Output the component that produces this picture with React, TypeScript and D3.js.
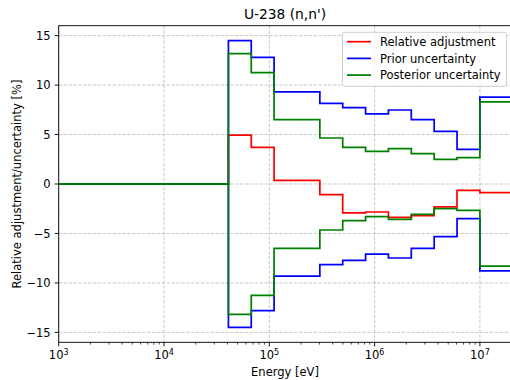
import React from "react";
import * as d3 from "d3";

const edges = [1e3, 4.09e4, 6.74e4, 1.11e5, 3.02e5, 4.98e5, 8.21e5, 1.353e6, 2.231e6, 3.679e6, 6.065e6, 1e7, 2e7];
const adjustment = [0, 4.95, 3.7, 0.36, -1.08, -2.93, -2.83, -3.37, -3.2, -2.32, -0.65, -0.88];
const prior = [0, 14.5, 12.8, 9.3, 8.15, 7.72, 7.08, 7.48, 6.5, 5.33, 3.5, 8.77];
const posterior = [0, 13.18, 11.26, 6.5, 4.65, 3.7, 3.3, 3.57, 3.06, 2.49, 2.66, 8.31];
const xTicks = [1e3, 1e4, 1e5, 1e6, 1e7];
const yTicks = [-15, -10, -5, 0, 5, 10, 15];
const legendLabels = ["Relative adjustment", "Prior uncertainty", "Posterior uncertainty"];
const colors = ["#ff0000", "#0000ff", "#008000"];

const W = 510, H = 380;
const L = 58.7, R = 511.6, T = 25.7, B = 342.3;
const FONT = "DejaVu Sans, sans-serif";
const FS = 11.5;

export default function App() {
  const x = d3.scaleLog().domain([1e3, 2e7]).range([L, R]);
  const y = d3.scaleLinear().domain([-16, 16]).range([B, T]);

  const stepPath = (vals: number[], sign = 1) => {
    const pts: [number, number][] = vals.map((v, i) => [edges[i], sign * v]);
    pts.push([edges[edges.length - 1], sign * vals[vals.length - 1]]);
    return d3.line<[number, number]>().x(d => x(d[0])).y(d => y(d[1])).curve(d3.curveStepAfter)(pts) || "";
  };

  const minor: number[] = [];
  for (let k = 3; k <= 7; k++) for (let m = 2; m <= 9; m++) {
    const v = m * Math.pow(10, k);
    if (v <= 2e7) minor.push(v);
  }

  const lines = [
    { d: stepPath(adjustment), c: colors[0] },
    { d: stepPath(prior, 1), c: colors[1] },
    { d: stepPath(prior, -1), c: colors[1] },
    { d: stepPath(posterior, 1), c: colors[2] },
    { d: stepPath(posterior, -1), c: colors[2] },
  ];

  const lgX = 342.5, lgY = 32.3, lgW = 164, lgH = 54;
  const rowY = [41.7, 58.4, 75.1];

  return (
    <svg width={W} height={H} style={{ position: "absolute", left: 0, top: 0, background: "#fff" }} fontFamily={FONT}>
      <defs>
        <clipPath id="plot">
          <rect x={L} y={T} width={R - L} height={B - T} />
        </clipPath>
      </defs>
      <rect x={0} y={0} width={W} height={H} fill="#fff" />
      {/* grid */}
      {xTicks.map(t => (
        <line key={"gx" + t} x1={x(t)} x2={x(t)} y1={T} y2={B} stroke="#b0b0b0" strokeWidth={0.92} strokeDasharray="3.4,1.5" opacity={0.75} />
      ))}
      {yTicks.map(t => (
        <line key={"gy" + t} x1={L} x2={R} y1={y(t)} y2={y(t)} stroke="#b0b0b0" strokeWidth={0.92} strokeDasharray="3.4,1.5" opacity={0.75} />
      ))}
      {/* data */}
      <g clipPath="url(#plot)">
        {lines.map((l, i) => (
          <path key={i} d={l.d} fill="none" stroke={l.c} strokeWidth={1.73} strokeLinejoin="miter" strokeLinecap="square" />
        ))}
      </g>
      {/* spines */}
      <rect x={L} y={T} width={R - L} height={B - T} fill="none" stroke="#000" strokeWidth={0.92} />
      {/* x ticks */}
      {xTicks.map(t => (
        <g key={"xt" + t}>
          <line x1={x(t)} x2={x(t)} y1={B} y2={B + 4} stroke="#000" strokeWidth={0.92} />
          <text x={x(t)} y={B + 17} fontSize={FS} textAnchor="middle" fill="#000">
            10<tspan dy={-4.5} fontSize={8}>{Math.log10(t)}</tspan>
          </text>
        </g>
      ))}
      {minor.map(t => (
        <line key={"mt" + t} x1={x(t)} x2={x(t)} y1={B} y2={B + 2.3} stroke="#000" strokeWidth={0.7} />
      ))}
      {/* y ticks */}
      {yTicks.map(t => (
        <g key={"yt" + t}>
          <line x1={L - 4} x2={L} y1={y(t)} y2={y(t)} stroke="#000" strokeWidth={0.92} />
          <text x={L - 8} y={y(t) + 4.2} fontSize={FS} textAnchor="end" fill="#000">
            {t < 0 ? "\u2212" + Math.abs(t) : String(t)}
          </text>
        </g>
      ))}
      {/* labels */}
      <text x={285} y={375.5} fontSize={FS} textAnchor="middle">Energy [eV]</text>
      <text transform={`translate(20.5,${(T + B) / 2}) rotate(-90)`} fontSize={FS} textAnchor="middle">Relative adjustment/uncertainty [%]</text>
      <text x={285} y={18.7} fontSize={13.8} textAnchor="middle">U-238 (n,n')</text>
      {/* legend */}
      <rect x={lgX} y={lgY} width={lgW} height={lgH} rx={2.5} fill="#fff" fillOpacity={0.8} stroke="#cccccc" strokeWidth={0.92} />
      {legendLabels.map((lab, i) => (
        <g key={lab}>
          <line x1={lgX + 4.5} x2={lgX + 28.5} y1={rowY[i]} y2={rowY[i]} stroke={colors[i]} strokeWidth={1.73} />
          <text x={lgX + 37.5} y={rowY[i] + 4.2} fontSize={FS}>{lab}</text>
        </g>
      ))}
    </svg>
  );
}
